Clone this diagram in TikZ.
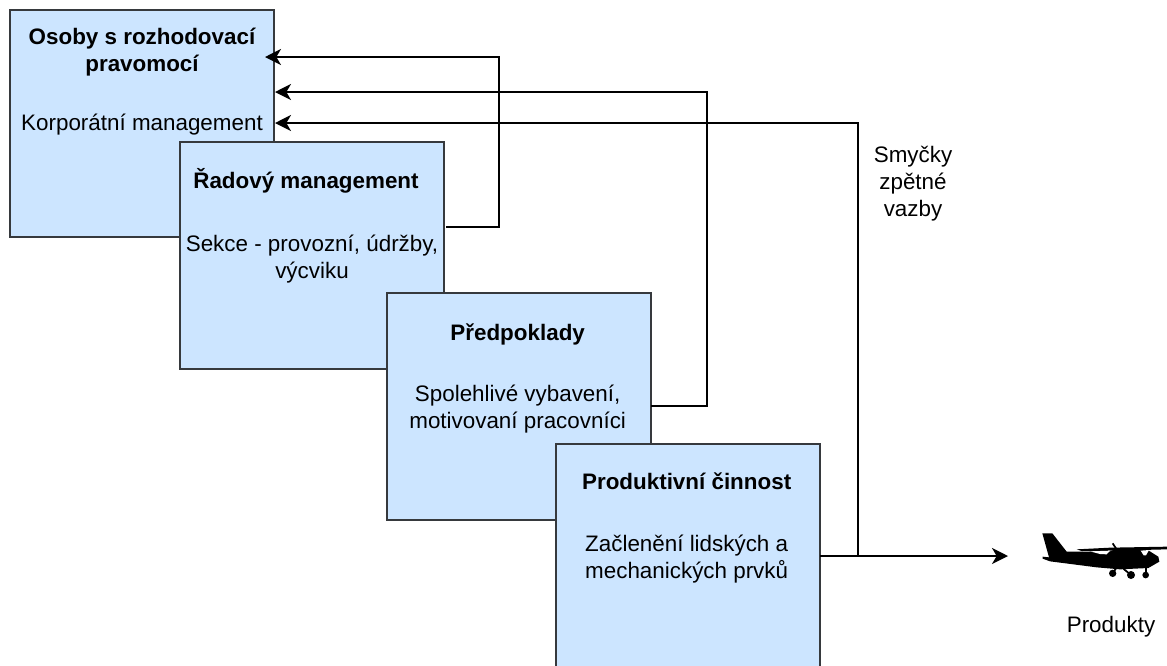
\documentclass[tikz,border=0pt]{standalone}
\usepackage{fontspec}
\setmainfont{Liberation Sans}
\usetikzlibrary{positioning, arrows.meta}

\definecolor{boxfill}{HTML}{CCE5FF}
\definecolor{boxline}{HTML}{36393D}

\tikzset{
  levelbox/.style={draw=boxline, fill=boxfill, line width=1.3pt, minimum width=198pt, minimum height=170pt, anchor=north west, inner sep=0pt, outer sep=0pt},
  boxtext/.style={inner sep=0pt, align=center, font=\fontsize{16.8}{20.25}\selectfont},
  boxtitle/.style={boxtext, font=\fontsize{16.8}{20.25}\selectfont\bfseries},
  loopline/.style={line width=1.4pt, black, line join=miter},
  looparrow/.style={loopline, -{Stealth[length=12pt, width=12pt, inset=3.5pt]}}
}

\begin{document}
\begin{tikzpicture}[x=0.75pt, y=-0.75pt]
\useasboundingbox (0,0) rectangle (1167,665);

\node[levelbox] (osoby) at (10,10) {};
\node[levelbox] (radovy) at (180,142) {};
\node[levelbox] (predpoklady) at (387,293) {};
\node[levelbox] (cinnost) at (556,444) {};

\node[boxtitle, below=13pt of osoby.north] (osobytitle) {Osoby s rozhodovací\\pravomocí};
\node[boxtext, below=28.25pt of osobytitle.south] (osobybody) {Korporátní management};

\node[boxtitle, below=19.3pt of radovy.north, xshift=-4.5pt] (radovytitle) {Řadový management};
\node[boxtext, below=31pt of radovytitle.south, xshift=4.5pt] (radovybody) {Sekce - provozní, údržby,\\výcviku};

\node[boxtitle, below=22.7pt of predpoklady.north, xshift=-1pt] (predpokladytitle) {Předpoklady};
\node[boxtext, below=29.75pt of predpokladytitle.south] (predpokladybody) {Spolehlivé vybavení,\\motivovaní pracovníci};

\node[boxtitle, below=21.7pt of cinnost.north, xshift=-1pt] (cinnosttitle) {Produktivní činnost};
\node[boxtext, below=33pt of cinnosttitle.south] (cinnostbody) {Začlenění lidských a\\mechanických prvků};

\coordinate (radovyout) at (446,227);
\coordinate (predpokladyout) at (651,406);
\coordinate (cinnostout) at (820,556);
\coordinate (branch) at (858,556);
\coordinate (inone) at (265,57);
\coordinate (intwo) at (275,92);
\coordinate (inthree) at (275,123);
\coordinate (produktyin) at (1008,556);

\draw[looparrow] (radovyout) -| (499,57) -- (inone);
\draw[looparrow] (predpokladyout) -| (707,92) -- (intwo);
\draw[looparrow] (branch) |- (inthree);
\draw[looparrow] (cinnostout) -- (produktyin);

\node[boxtext] (smycky) at (913,183.5) {Smyčky\\zpětné\\vazby};

\begin{scope}[shift={(1000,510)}, x=0.25pt, y=-0.25pt]
\fill[black] (127,70) -- (157,70) -- (200,125) -- (330,124) -- (345,118) -- (440,118) -- (475,140) -- (478,155) -- (445,174) -- (360,178) -- (290,172) -- (150,154) -- (128,146) -- (128,140) -- (147,142) -- cycle;
\fill[black] (230,118) -- (330,113) -- (501,110) -- (501,118) -- (345,122) -- (245,123) -- cycle;
\fill[white] (270,124) -- (330,122) -- (320,133) -- (300,132) -- cycle;
\fill[white] (422,122) -- (447,120) -- (438,136) -- (431,136) -- cycle;
\draw[black, line width=1.3pt] (338,100) -- (350,118);
\draw[black, line width=1.3pt] (350,172) -- (338,190);
\draw[black, line width=1.3pt] (370,176) -- (393,195);
\draw[black, line width=1.3pt] (437,170) -- (437,195);
\fill[black] (338,190) circle (11);
\fill[black] (393,195) circle (12);
\fill[black] (437,195) circle (10);
\end{scope}

\node[boxtext] (produkty) at (1111,627) {Produkty};
\end{tikzpicture}
\end{document}
